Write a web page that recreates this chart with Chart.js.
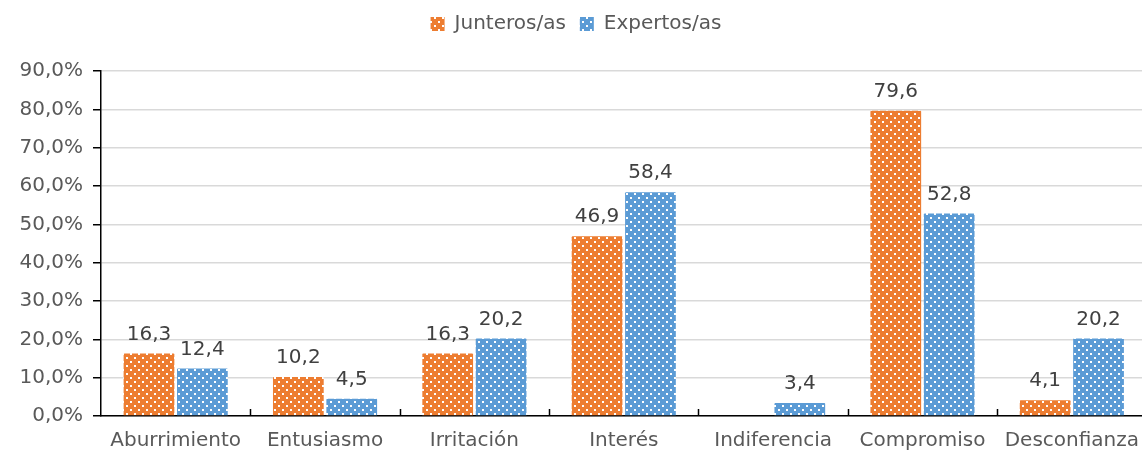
<!DOCTYPE html>
<html>
<head>
<meta charset="utf-8">
<script src="https://cdn.jsdelivr.net/npm/chart.js@4/dist/chart.umd.min.js"></script>
<style>
html, body { margin: 0; padding: 0; background: #fff; overflow: hidden; }
#wrap { width: 1152px; height: 453px; position: relative; }
</style>
</head>
<body>
<div id="wrap"><canvas id="grafico"></canvas></div>
<script>
// --- datos ---
const categorias = ["Aburrimiento", "Entusiasmo", "Irritación", "Interés", "Indiferencia", "Compromiso", "Desconfianza"];
const junteros = [16.3, 10.2, 16.3, 46.9, null, 79.6, 4.1];
const expertos = [12.4, 4.5, 20.2, 58.4, 3.4, 52.8, 20.2];
const nombres = ["Junteros/as", "Expertos/as"];

const FUENTE = "'DejaVu Sans', Verdana, sans-serif";
const TAM = 20;

// relleno punteado (puntos blancos sobre color)
function patron(color) {
  const c = document.createElement("canvas");
  c.width = 8; c.height = 8;
  const ctx = c.getContext("2d");
  ctx.fillStyle = color;
  ctx.fillRect(0, 0, 8, 8);
  ctx.fillStyle = "#ffffff";
  ctx.fillRect(2, 1, 2, 2);
  ctx.fillRect(6, 5, 2, 2);
  return ctx.createPattern(c, "repeat");
}

const numero = v => v.toFixed(1).replace(".", ",");

// etiquetas de valor + marcas del eje x hacia dentro
const etiquetas = {
  id: "etiquetas",
  beforeInit(chart) {
    // mas espacio entre la leyenda y el grafico
    const fit = chart.legend.fit;
    chart.legend.fit = function () { fit.call(this); this.height += 27; };
  },
  afterDatasetsDraw(chart) {
    const ctx = chart.ctx;
    ctx.save();
    ctx.font = TAM + "px " + FUENTE;
    ctx.fillStyle = "#404040";
    ctx.textAlign = "center";
    ctx.textBaseline = "bottom";
    chart.data.datasets.forEach((ds, i) => {
      chart.getDatasetMeta(i).data.forEach((bar, j) => {
        const v = ds.data[j];
        if (v == null) return;
        ctx.fillText(numero(v), bar.x, bar.y - 9);
      });
    });
    // marcas entre categorias
    const x = chart.scales.x;
    const base = chart.chartArea.bottom;
    ctx.strokeStyle = "#000";
    ctx.lineWidth = 1.5;
    ctx.beginPath();
    for (let i = 1; i < categorias.length; i++) {
      const px = Math.round((x.getPixelForTick(i - 1) + x.getPixelForTick(i)) / 2) + 0.5;
      ctx.moveTo(px, base);
      ctx.lineTo(px, base - 7);
    }
    ctx.stroke();
    ctx.restore();
  }
};

new Chart(document.getElementById("grafico"), {
  type: "bar",
  data: {
    labels: categorias,
    datasets: [
      { label: nombres[0], data: junteros, backgroundColor: patron("#ED7D31"), borderRadius: 1 },
      { label: nombres[1], data: expertos, backgroundColor: patron("#5B9BD5"), borderRadius: 1 }
    ]
  },
  options: {
    responsive: true,
    maintainAspectRatio: false,
    animation: false,
    categoryPercentage: 0.715,
    barPercentage: 0.95,
    layout: { padding: { top: 0, right: 0, bottom: 0, left: 0 } },
    plugins: {
      legend: {
        position: "top",
        labels: {
          font: { family: FUENTE, size: TAM },
          color: "#595959",
          boxWidth: 14,
          boxHeight: 14,
          padding: 14
        }
      },
      tooltip: { enabled: false }
    },
    scales: {
      x: {
        afterFit: s => { s.height = 37; },
        grid: { drawOnChartArea: false, drawTicks: false },
        border: { color: "#000", width: 1.5 },
        ticks: { font: { family: FUENTE, size: TAM }, color: "#595959", padding: 13 }
      },
      y: {
        min: 0, max: 90,
        afterFit: s => { s.width = 101; },
        grid: { color: "#d9d9d9", lineWidth: 1.5, tickColor: "#000", tickLength: 8 },
        border: { color: "#000", width: 1.5 },
        ticks: {
          stepSize: 10,
          font: { family: FUENTE, size: TAM },
          color: "#595959",
          padding: 10,
          callback: v => numero(v) + "%"
        }
      }
    }
  },
  plugins: [etiquetas]
});
</script>
</body>
</html>
